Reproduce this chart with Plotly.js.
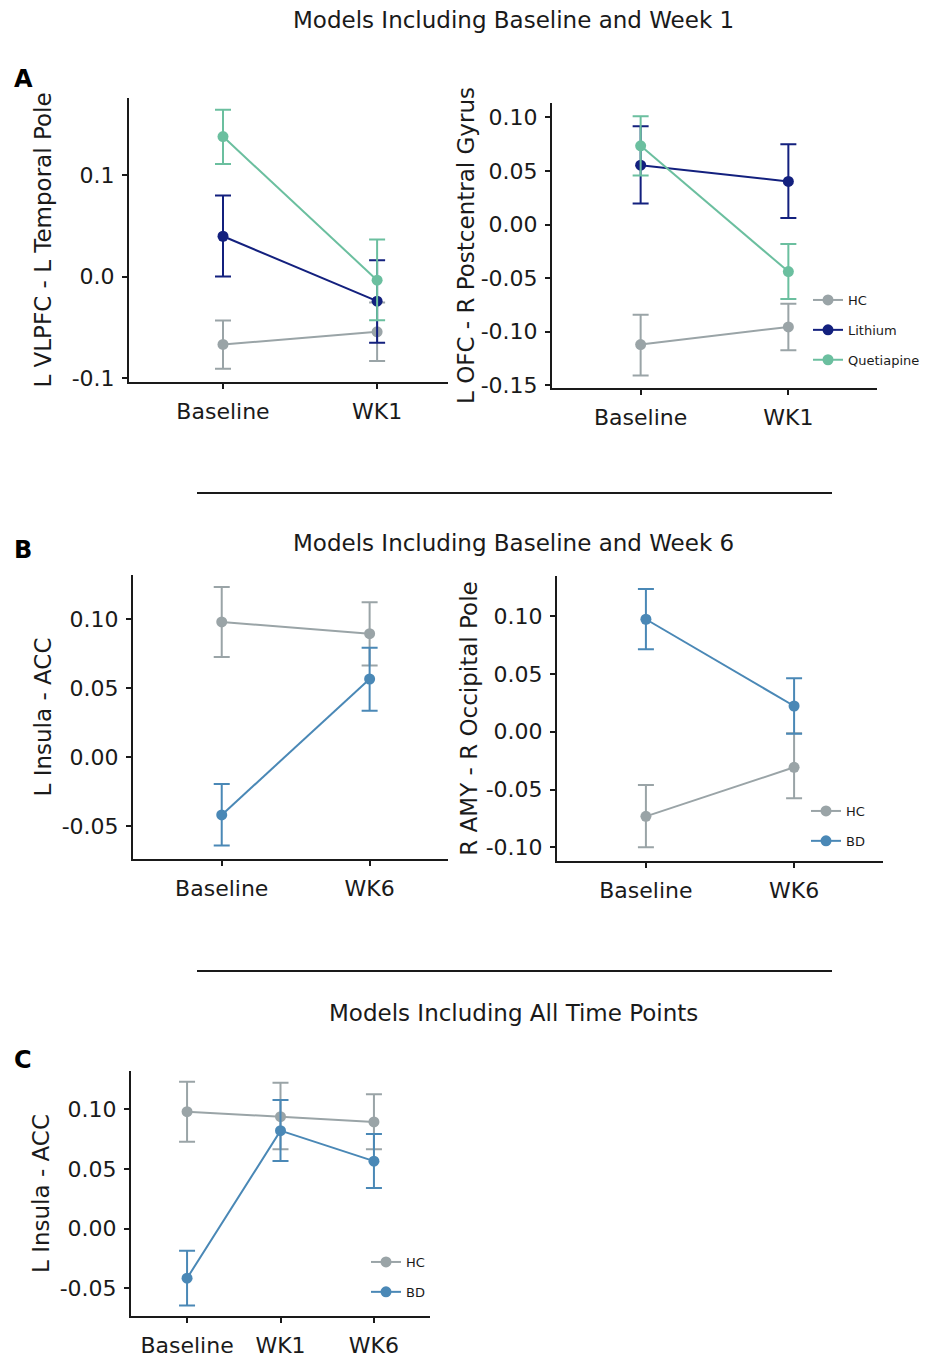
<!DOCTYPE html>
<html>
<head>
<meta charset="utf-8">
<script src="https://cdn.plot.ly/plotly-3.0.1.min.js"></script>
<style>html,body{margin:0;padding:0;background:#fff;}#chart{width:925px;height:1359px;}</style>
</head>
<body>
<div id="chart"></div>
<script>
// ---- categories ----
const timesWk1 = ['Baseline', 'WK1'];
const timesWk6 = ['Baseline', 'WK6'];
const timesAll = ['Baseline', 'WK1', 'WK6'];

// ---- Panel A left: L VLPFC - L Temporal Pole ----
const a1HcMean = [-0.067, -0.0545];
const a1HcLow  = [-0.091, -0.0834];
const a1HcHigh = [-0.0433, -0.0256];
const a1LiMean = [0.0397, -0.0243];
const a1LiLow  = [0.0, -0.0653];
const a1LiHigh = [0.0798, 0.016];
const a1QuMean = [0.138, -0.0036];
const a1QuLow  = [0.111, -0.043];
const a1QuHigh = [0.1645, 0.0365];

// ---- Panel A right: L OFC - R Postcentral Gyrus ----
const a2HcMean = [-0.112, -0.0955];
const a2HcLow  = [-0.1408, -0.1172];
const a2HcHigh = [-0.0841, -0.0738];
const a2LiMean = [0.0554, 0.0402];
const a2LiLow  = [0.0196, 0.0062];
const a2LiHigh = [0.0916, 0.0748];
const a2QuMean = [0.0735, -0.0439];
const a2QuLow  = [0.0458, -0.0695];
const a2QuHigh = [0.101, -0.0181];

// ---- Panel B left: L Insula - ACC ----
const b1HcMean = [0.098, 0.0895];
const b1HcLow  = [0.0726, 0.0664];
const b1HcHigh = [0.1233, 0.1122];
const b1BdMean = [-0.0417, 0.0567];
const b1BdLow  = [-0.0639, 0.0338];
const b1BdHigh = [-0.0193, 0.0794];

// ---- Panel B right: R AMY - R Occipital Pole ----
const b2HcMean = [-0.0732, -0.0308];
const b2HcLow  = [-0.1, -0.0576];
const b2HcHigh = [-0.0461, -0.0014];
const b2BdMean = [0.0972, 0.0222];
const b2BdLow  = [0.0713, -0.0017];
const b2BdHigh = [0.1234, 0.0462];

// ---- Panel C: L Insula - ACC (all time points) ----
const cHcMean = [0.0978, 0.0936, 0.0892];
const cHcLow  = [0.0727, 0.0663, 0.0663];
const cHcHigh = [0.1229, 0.122, 0.1124];
const cBdMean = [-0.0415, 0.0819, 0.0564];
const cBdLow  = [-0.0644, 0.0566, 0.034];
const cBdHigh = [-0.0186, 0.1076, 0.0792];

// ---- tick labels ----
const tickA1Vals = [-0.1, 0.0, 0.1];
const tickA1Text = ['-0.1', '0.0', '0.1'];
const tickA2Vals = [-0.15, -0.10, -0.05, 0.0, 0.05, 0.10];
const tickA2Text = ['-0.15', '-0.10', '-0.05', '0.00', '0.05', '0.10'];
const tickB1Vals = [-0.05, 0.0, 0.05, 0.10];
const tickB1Text = ['-0.05', '0.00', '0.05', '0.10'];
const tickB2Vals = [-0.10, -0.05, 0.0, 0.05, 0.10];
const tickB2Text = ['-0.10', '-0.05', '0.00', '0.05', '0.10'];
const tickCVals = [-0.05, 0.0, 0.05, 0.10];
const tickCText = ['-0.05', '0.00', '0.05', '0.10'];

// ---- styles ----
const COL = {HC: '#9aa4a7', Lithium: '#13207e', Quetiapine: '#6bbf9f', BD: '#4a88b6'};
const INK = '#1a1a1a';
const FONT = 'DejaVu Sans, Liberation Sans, Arial, sans-serif';

function series(name, x, mean, low, high, xa, ya, legendKey, show) {
  return {
    type: 'scatter', mode: 'lines+markers', name: name,
    x: x, y: mean, xaxis: xa, yaxis: ya,
    line: {color: COL[name], width: 2},
    marker: {color: COL[name], size: 11},
    error_y: {
      type: 'data', symmetric: false,
      array: high.map((h, i) => h - mean[i]),
      arrayminus: mean.map((m, i) => m - low[i]),
      color: COL[name], thickness: 2, width: 8
    },
    showlegend: show, legend: legendKey, legendgroup: legendKey + name,
    hoverinfo: 'x+y'
  };
}

const data = [
  series('HC', timesWk1, a1HcMean, a1HcLow, a1HcHigh, 'x', 'y', 'legend', false),
  series('Lithium', timesWk1, a1LiMean, a1LiLow, a1LiHigh, 'x', 'y', 'legend', false),
  series('Quetiapine', timesWk1, a1QuMean, a1QuLow, a1QuHigh, 'x', 'y', 'legend', false),
  series('HC', timesWk1, a2HcMean, a2HcLow, a2HcHigh, 'x2', 'y2', 'legend', true),
  series('Lithium', timesWk1, a2LiMean, a2LiLow, a2LiHigh, 'x2', 'y2', 'legend', true),
  series('Quetiapine', timesWk1, a2QuMean, a2QuLow, a2QuHigh, 'x2', 'y2', 'legend', true),
  series('HC', timesWk6, b1HcMean, b1HcLow, b1HcHigh, 'x3', 'y3', 'legend2', false),
  series('BD', timesWk6, b1BdMean, b1BdLow, b1BdHigh, 'x3', 'y3', 'legend2', false),
  series('HC', timesWk6, b2HcMean, b2HcLow, b2HcHigh, 'x4', 'y4', 'legend2', true),
  series('BD', timesWk6, b2BdMean, b2BdLow, b2BdHigh, 'x4', 'y4', 'legend2', true),
  series('HC', timesAll, cHcMean, cHcLow, cHcHigh, 'x5', 'y5', 'legend3', true),
  series('BD', timesAll, cBdMean, cBdLow, cBdHigh, 'x5', 'y5', 'legend3', true)
];

const W = 925, H = 1359;
const px = v => v / W;
const py = v => 1 - v / H;

function xAxis(dom, range, cats, anchor) {
  return {
    domain: [px(dom[0]), px(dom[1])], anchor: anchor, type: 'category',
    categoryorder: 'array', categoryarray: cats,
    range: range, showgrid: false, zeroline: false,
    showline: true, linecolor: INK, linewidth: 2,
    ticks: 'outside', ticklen: 5, tickwidth: 2, tickcolor: INK, ticklabelstandoff: 4,
    tickfont: {size: 22, color: INK, family: FONT}, fixedrange: true
  };
}
function yAxis(dom, range, vals, text, anchor, title, standoff) {
  return {
    domain: [py(dom[1]), py(dom[0])], anchor: anchor,
    range: range, showgrid: false, zeroline: false,
    showline: true, linecolor: INK, linewidth: 2,
    ticks: 'outside', ticklen: 5, tickwidth: 2, tickcolor: INK,
    tickvals: vals, ticktext: text, ticklabelstandoff: 3,
    tickfont: {size: 22, color: INK, family: FONT},
    title: {text: title, font: {size: 23, color: INK, family: FONT}, standoff: standoff},
    fixedrange: true
  };
}

const legendBase = {
  bgcolor: 'rgba(0,0,0,0)', borderwidth: 0, font: {size: 13, color: INK, family: FONT},
  xanchor: 'left', yanchor: 'top', traceorder: 'grouped', tracegroupgap: 10,
  itemclick: false, itemdoubleclick: false
};

const layout = {
  width: W, height: H,
  margin: {l: 0, r: 0, t: 0, b: 0},
  paper_bgcolor: '#fff', plot_bgcolor: '#fff',
  font: {family: FONT, color: INK},
  showlegend: true,
  xaxis:  xAxis([129, 448], [-0.61, 1.46], timesWk1, 'y'),
  yaxis:  yAxis([98, 382], [-0.104, 0.176], tickA1Vals, tickA1Text, 'x', 'L VLPFC - L Temporal Pole', 14),
  xaxis2: xAxis([552, 877], [-0.6, 1.6], timesWk1, 'y2'),
  yaxis2: yAxis([103, 388], [-0.1525, 0.1134], tickA2Vals, tickA2Text, 'x2', 'L OFC - R Postcentral Gyrus', 0),
  xaxis3: xAxis([133, 448], [-0.6, 1.53], timesWk6, 'y3'),
  yaxis3: yAxis([575, 859], [-0.0736, 0.132], tickB1Vals, tickB1Text, 'x3', 'L Insula - ACC', 4),
  xaxis4: xAxis([557, 883], [-0.6, 1.6], timesWk6, 'y4'),
  yaxis4: yAxis([576, 861], [-0.1118, 0.1346], tickB2Vals, tickB2Text, 'x4', 'R AMY - R Occipital Pole', 2),
  xaxis5: xAxis([131, 430], [-0.6, 2.6], timesAll, 'y5'),
  yaxis5: yAxis([1071, 1316], [-0.0731, 0.1318], tickCVals, tickCText, 'x5', 'L Insula - ACC', 4),
  legend:  Object.assign({}, legendBase, {x: px(808), y: py(285)}),
  legend2: Object.assign({}, legendBase, {x: px(806), y: py(796)}),
  legend3: Object.assign({}, legendBase, {x: px(366), y: py(1247)}),
  shapes: [
    {type: 'line', xref: 'paper', yref: 'paper', x0: px(197), x1: px(832), y0: py(493), y1: py(493), line: {color: INK, width: 2}},
    {type: 'line', xref: 'paper', yref: 'paper', x0: px(197), x1: px(832), y0: py(971), y1: py(971), line: {color: INK, width: 2}}
  ],
  annotations: [
    {text: 'Models Including Baseline and Week 1', xref: 'paper', yref: 'paper', x: px(513), y: py(20), xanchor: 'center', yanchor: 'middle', showarrow: false, font: {size: 23, color: INK, family: FONT}},
    {text: 'Models Including Baseline and Week 6', xref: 'paper', yref: 'paper', x: px(513), y: py(543), xanchor: 'center', yanchor: 'middle', showarrow: false, font: {size: 23, color: INK, family: FONT}},
    {text: 'Models Including All Time Points', xref: 'paper', yref: 'paper', x: px(513), y: py(1013), xanchor: 'center', yanchor: 'middle', showarrow: false, font: {size: 23, color: INK, family: FONT}},
    {text: '<b>A</b>', xref: 'paper', yref: 'paper', x: px(23), y: py(79), xanchor: 'center', yanchor: 'middle', showarrow: false, font: {size: 24, color: '#000', family: FONT}},
    {text: '<b>B</b>', xref: 'paper', yref: 'paper', x: px(23), y: py(550), xanchor: 'center', yanchor: 'middle', showarrow: false, font: {size: 24, color: '#000', family: FONT}},
    {text: '<b>C</b>', xref: 'paper', yref: 'paper', x: px(23), y: py(1060), xanchor: 'center', yanchor: 'middle', showarrow: false, font: {size: 24, color: '#000', family: FONT}}
  ]
};

Plotly.newPlot('chart', data, layout, {staticPlot: true, displayModeBar: false});
</script>
</body>
</html>
